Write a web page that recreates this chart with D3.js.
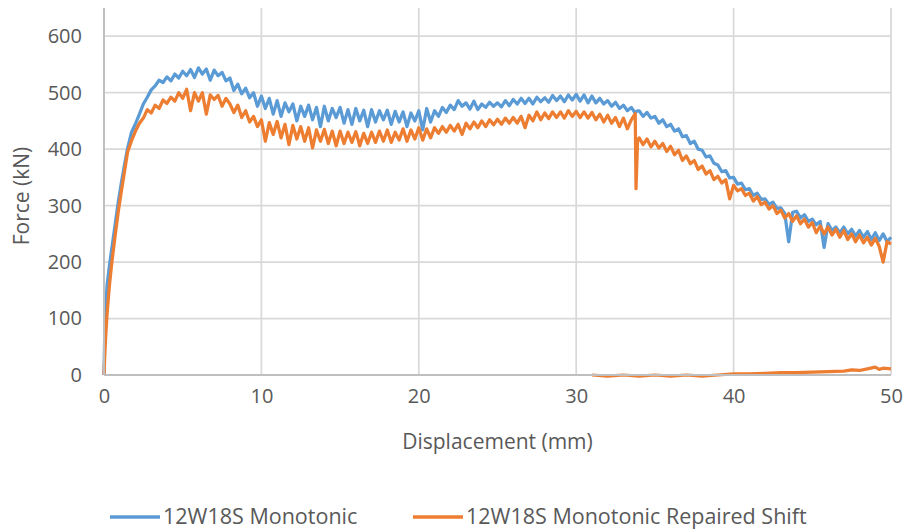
<!DOCTYPE html>
<html>
<head>
<meta charset="utf-8">
<script src="https://cdn.jsdelivr.net/npm/d3@7"></script>
<style>
  body { margin: 0; background: #fff; }
  svg text { font-family: "Open Sans", "Liberation Sans", sans-serif; fill: #595959; }
</style>
</head>
<body>
<div id="chart"></div>
<script>
//---------------------------------------------------------------------
// Force vs displacement, 12W18S monotonic tests
//---------------------------------------------------------------------

// displacement (mm), shared by both main curves
var displacement = [
  0, 0.05, 0.1, 0.2, 0.35, 0.5, 0.7, 0.9, 1.1, 1.3, 1.5, 1.75,
  2, 2.25, 2.5, 2.75, 3, 3.25, 3.5, 3.75, 4, 4.25, 4.5, 4.75,
  5, 5.25, 5.5, 5.75, 6, 6.25, 6.5, 6.75, 7, 7.25, 7.5, 7.75,
  8, 8.25, 8.5, 8.75, 9, 9.25, 9.5, 9.75, 10, 10.25, 10.5, 10.75,
  11, 11.25, 11.5, 11.75, 12, 12.25, 12.5, 12.75, 13, 13.25, 13.5, 13.75,
  14, 14.25, 14.5, 14.75, 15, 15.25, 15.5, 15.75, 16, 16.25, 16.5, 16.75,
  17, 17.25, 17.5, 17.75, 18, 18.25, 18.5, 18.75, 19, 19.25, 19.5, 19.75,
  20, 20.25, 20.5, 20.75, 21, 21.25, 21.5, 21.75, 22, 22.25, 22.5, 22.75,
  23, 23.25, 23.5, 23.75, 24, 24.25, 24.5, 24.75, 25, 25.25, 25.5, 25.75,
  26, 26.25, 26.5, 26.75, 27, 27.25, 27.5, 27.75, 28, 28.25, 28.5, 28.75,
  29, 29.25, 29.5, 29.75, 30, 30.25, 30.5, 30.75, 31, 31.25, 31.5, 31.75,
  32, 32.25, 32.5, 32.75, 33, 33.25, 33.5, 33.75, 33.8, 33.9,
  34, 34.25, 34.5, 34.75, 35, 35.25, 35.5, 35.75, 36, 36.25, 36.5, 36.75,
  37, 37.25, 37.5, 37.75, 38, 38.25, 38.5, 38.75, 39, 39.25, 39.5, 39.75,
  40, 40.25, 40.5, 40.75, 41, 41.25, 41.5, 41.75, 42, 42.25, 42.5, 42.75,
  43, 43.25, 43.5, 43.75, 44, 44.25, 44.5, 44.75, 45, 45.25, 45.5, 45.75,
  46, 46.25, 46.5, 46.75, 47, 47.25, 47.5, 47.75, 48, 48.25, 48.5, 48.75,
  49, 49.25, 49.5, 49.75, 50
];

// force (kN) - 12W18S Monotonic
var forceMonotonic = [
  0, 80, 115, 160, 195, 225, 265, 305, 340, 372, 402, 430,
  445, 462, 480, 492, 505, 512, 522, 518, 528, 521, 533, 526,
  538, 530, 541, 527, 544, 533, 542, 522, 540, 530, 536, 521,
  526, 504, 515, 498, 508, 491, 500, 476, 494, 472, 490, 462,
  486, 458, 482, 466, 480, 450, 476, 458, 478, 452, 474, 440,
  476, 450, 472, 456, 474, 446, 470, 444, 472, 450, 469, 440,
  470, 448, 468, 452, 469, 444, 467, 448, 466, 440, 464, 450,
  468, 434, 472, 448, 468, 458, 474, 465, 478, 470, 486, 476,
  482, 471, 485, 470, 480, 474, 483, 476, 482, 475, 486, 477,
  488, 480, 490, 481, 490, 480, 492, 484, 491, 483, 495, 486,
  494, 484, 496, 487, 497, 485, 496, 482, 494, 482, 490, 480,
  486, 476, 483, 472, 478, 468, 474, 464, 466, 468,
  468, 458, 465, 455, 458, 446, 452, 440, 444, 432, 436, 422,
  424, 410, 414, 400, 398, 386, 388, 375, 372, 360, 362, 349,
  350, 338, 340, 328, 330, 318, 322, 311, 312, 302, 306, 295,
  296, 286, 236, 288, 290, 278, 284, 272, 276, 266, 272, 226,
  268, 256, 262, 252, 262, 250, 258, 246, 256, 244, 254, 240,
  252, 238, 250, 236, 244
];

// force (kN) - 12W18S Monotonic Repaired Shift
var forceRepaired = [
  0, 35, 65, 110, 160, 200, 245, 288, 325, 360, 395, 415,
  432, 446, 455, 470, 464, 478, 472, 487, 481, 492, 485, 500,
  490, 506, 468, 500, 485, 500, 462, 496, 488, 495, 476, 490,
  480, 465, 478, 456, 468, 448, 458, 440, 452, 414, 447, 426,
  449, 420, 444, 408, 442, 418, 440, 414, 438, 402, 434, 414,
  435, 410, 432, 406, 432, 410, 430, 412, 431, 406, 428, 410,
  430, 412, 432, 414, 434, 412, 430, 416, 436, 414, 434, 418,
  438, 416, 436, 420, 438, 428, 440, 430, 442, 432, 444, 426,
  446, 436, 448, 438, 450, 440, 452, 443, 453, 444, 455, 446,
  456, 446, 458, 438, 460, 450, 466, 452, 464, 454, 466, 456,
  466, 455, 468, 458, 467, 456, 466, 455, 465, 452, 462, 448,
  460, 446, 456, 440, 455, 436, 452, 463, 330, 416,
  420, 408, 418, 404, 414, 402, 410, 396, 405, 390, 398, 380,
  388, 374, 380, 364, 370, 356, 362, 346, 352, 340, 346, 312,
  336, 326, 330, 318, 322, 308, 316, 302, 306, 294, 300, 286,
  292, 278, 286, 272, 282, 268, 276, 262, 270, 252, 264, 250,
  262, 248, 258, 244, 256, 240, 250, 236, 248, 234, 244, 230,
  242, 228, 200, 236, 232
];

// repaired specimen, residual shift branch along the bottom
var shiftDisplacement = [31, 32, 33, 34, 35, 36, 37, 38, 39, 40, 41, 42, 43, 44, 45, 46, 47, 47.5, 48, 48.5, 49, 49.25, 49.5, 50];
var shiftForce = [0, -2, 0, -2, 0, -2, 0, -2, 0, 2, 2, 3, 4, 4, 5, 6, 7, 9, 8, 11, 14, 10, 12, 11];

var seriesNames = ["12W18S Monotonic", "12W18S Monotonic Repaired Shift"];
var seriesColors = ["#5B9BD5", "#ED7D31"];
var xTicks = [0, 10, 20, 30, 40, 50];
var yTicks = [0, 100, 200, 300, 400, 500, 600];

var W = 909, H = 531;
var margin = {top: 8, right: 18, bottom: 156, left: 104};
var width = W - margin.left - margin.right;
var height = H - margin.top - margin.bottom;

var svg = d3.select("#chart").append("svg")
    .attr("width", W)
    .attr("height", H);

var g = svg.append("g")
    .attr("transform", "translate(" + margin.left + "," + margin.top + ")");

var x = d3.scaleLinear().domain([0, 50]).range([0, width]);
var y = d3.scaleLinear().domain([0, 650]).range([height, 0]);

// gridlines
g.append("g").selectAll("line.h")
  .data(yTicks.slice(1))
  .enter().append("line")
    .attr("x1", 0).attr("x2", width)
    .attr("y1", function(d) { return y(d); })
    .attr("y2", function(d) { return y(d); })
    .attr("stroke", "#d9d9d9")
    .attr("stroke-width", 1.75);
g.append("g").selectAll("line.v")
  .data(xTicks.slice(1))
  .enter().append("line")
    .attr("x1", function(d) { return x(d); })
    .attr("x2", function(d) { return x(d); })
    .attr("y1", 0).attr("y2", height)
    .attr("stroke", "#d9d9d9")
    .attr("stroke-width", 1.75);

// series
var line = d3.line()
    .x(function(d) { return x(d[0]); })
    .y(function(d) { return y(d[1]); });

var curves = [
  {pts: d3.zip(displacement, forceMonotonic), color: seriesColors[0]},
  {pts: d3.zip(displacement, forceRepaired), color: seriesColors[1]},
  {pts: d3.zip(shiftDisplacement, shiftForce), color: seriesColors[1]}
];

g.append("g").selectAll("path")
  .data(curves)
  .enter().append("path")
    .attr("d", function(d) { return line(d.pts); })
    .attr("fill", "none")
    .attr("stroke", function(d) { return d.color; })
    .attr("stroke-width", 3.25)
    .attr("stroke-linejoin", "round");

// axis lines on top
g.append("line")
    .attr("x1", 0).attr("x2", width)
    .attr("y1", height).attr("y2", height)
    .attr("stroke", "#bfbfbf").attr("stroke-width", 2);
g.append("line")
    .attr("x1", 0).attr("x2", 0)
    .attr("y1", 0).attr("y2", height)
    .attr("stroke", "#bfbfbf").attr("stroke-width", 2);

// tick labels
var yAxis = d3.axisLeft(y).tickValues(yTicks).tickSize(0).tickPadding(22);
g.append("g").call(yAxis)
  .call(function(s) { s.select(".domain").remove(); })
  .selectAll("text")
    .attr("fill", "#595959")
    .style("font-size", "20px");

var xAxis = d3.axisBottom(x).tickValues(xTicks).tickSize(0).tickPadding(14);
g.append("g")
    .attr("transform", "translate(0," + height + ")")
  .call(xAxis)
  .call(function(s) { s.select(".domain").remove(); })
  .selectAll("text")
    .attr("fill", "#595959")
    .style("font-size", "20px");

// axis titles
svg.append("text")
    .attr("transform", "translate(29," + 196 + ") rotate(-90)")
    .attr("text-anchor", "middle")
    .style("font-size", "21px")
    .text("Force (kN)");
svg.append("text")
    .attr("x", margin.left + width / 2)
    .attr("y", 449)
    .attr("text-anchor", "middle")
    .style("font-size", "21px")
    .text("Displacement (mm)");

// legend
var legendX = [110, 413];
var legend = svg.append("g").selectAll("g")
  .data(seriesNames)
  .enter().append("g")
    .attr("transform", function(d, i) { return "translate(" + legendX[i] + ",517)"; });
legend.append("line")
    .attr("x1", 0).attr("x2", 50)
    .attr("stroke", function(d, i) { return seriesColors[i]; })
    .attr("stroke-width", 3.5);
legend.append("text")
    .attr("x", 53)
    .attr("y", 7)
    .style("font-size", "21.5px")
    .text(function(d) { return d; });
</script>
</body>
</html>
